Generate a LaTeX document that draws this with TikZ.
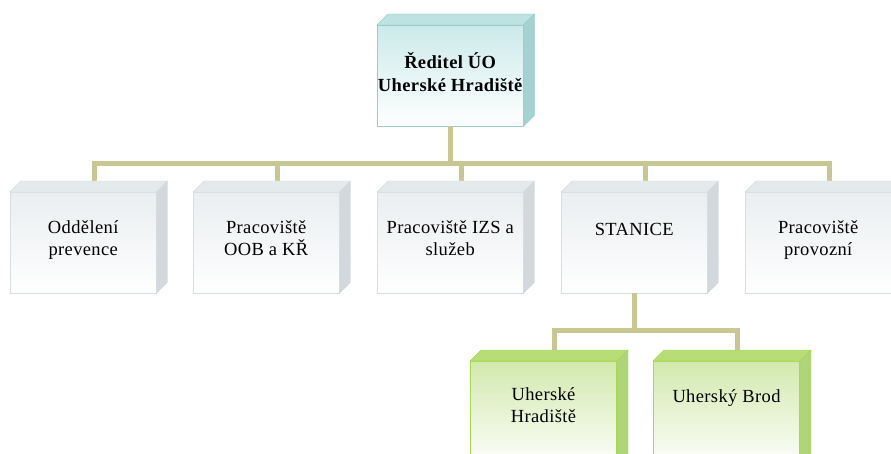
\documentclass[tikz,border=0pt]{standalone}
\usepackage{fontspec}
\setmainfont{Liberation Serif}
\newfontfamily\orgfont{Liberation Serif}[LetterSpace=2]
\usetikzlibrary{positioning,calc}

\definecolor{lineol}{RGB}{200,198,146}
\definecolor{tealedge}{RGB}{150,205,205}
\definecolor{tealtop}{RGB}{190,226,226}
\definecolor{tealside}{RGB}{164,210,210}
\definecolor{tealfront}{RGB}{204,234,234}
\definecolor{greyedge}{RGB}{216,222,225}
\definecolor{greytop}{RGB}{228,233,235}
\definecolor{greyside}{RGB}{210,216,219}
\definecolor{greyfront}{RGB}{234,238,240}
\definecolor{greenedge}{RGB}{166,216,84}
\definecolor{greentop}{RGB}{184,221,118}
\definecolor{greenside}{RGB}{176,212,120}
\definecolor{greenfront}{RGB}{210,233,174}

\begin{document}
\begin{tikzpicture}[x=1pt,y=-1pt,
    front/.style={rectangle,anchor=north west,inner sep=0pt,minimum width=146pt,minimum height=101pt},
    tealbox/.style={front,draw=tealedge,top color=tealfront,bottom color=white},
    greybox/.style={front,draw=greyedge,top color=greyfront,bottom color=white!96!greyfront},
    greenbox/.style={front,draw=greenedge,line width=1pt,top color=greenfront,bottom color=white,minimum height=110pt},
    lbl/.style={align=center,inner sep=0pt,font=\orgfont\fontsize{18.5}{22}\selectfont,execute at begin node=\strut},
    conn/.style={draw=lineol,line width=5pt}]
  \useasboundingbox (0,0) rectangle (891,454);

  % top unit
  \node[tealbox] (ring) at (377,25) {};
  \node[lbl, font=\orgfont\fontsize{18.5}{23}\selectfont\bfseries, below=27pt of ring.north] (ring-l) {Ředitel ÚO\\Uherské Hradiště};

  % first row
  \foreach \name/\x/\txt in {odd/10/{Oddělení\\prevence}, oob/193/{Pracoviště\\OOB a KŘ},
      izs/377/{Pracoviště IZS a\\služeb}, stan/561/STANICE, prov/745/{Pracoviště\\provozní}}
  {
    \node[greybox] (\name) at (\x,192) {};
    \node[lbl, below=28pt of \name.north] (\name-l) {\txt};
    \draw[conn] (ring.south) -- ++(0,37) -| ($(\name.north)+(11,-11)$);
  }

  % stations
  \node[greenbox] (uh) at (470,361) {};
  \node[lbl, below=26pt of uh.north] (uh-l) {Uherské\\Hradiště};
  \node[greenbox] (ub) at (653,361) {};
  \node[lbl, below=26pt of ub.north] (ub-l) {Uherský Brod};
  \foreach \name in {uh,ub}
    \draw[conn] (stan.south) -- ++(0,37) -| ($(\name.north)+(11,-11)$);

  % top and side faces
  \foreach \name/\tone in {ring/teal, odd/grey, oob/grey, izs/grey, stan/grey, prov/grey, uh/green, ub/green}
  {
    \filldraw[fill=\tone top, draw=\tone edge] (\name.north west) -- ++(11,-11)
      -- ($(\name.north east)+(11,-11)$) -- (\name.north east) -- cycle;
    \filldraw[fill=\tone side, draw=\tone edge] (\name.north east) -- ++(11,-11)
      -- ($(\name.south east)+(11,-11)$) -- (\name.south east) -- cycle;
  }
\end{tikzpicture}
\end{document}
